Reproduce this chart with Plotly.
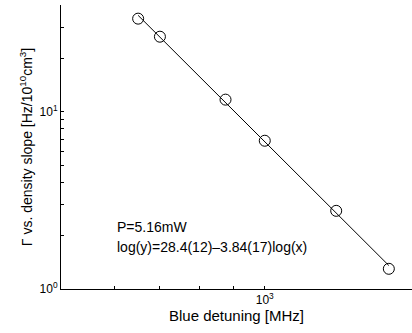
import numpy as np
import plotly.graph_objects as go

# Data
detuning = [650, 700, 875, 1000, 1275, 1525]       # MHz
slope = [33.5, 26.5, 11.7, 6.86, 2.76, 1.30]        # Hz/10^10 cm^3

x_tickvals = [500, 600, 700, 800, 900, 1000]
x_ticktext = ["", "", "", "", "", "10<sup>3</sup>"]
y_tickvals = [1, 2, 3, 4, 5, 6, 7, 8, 9, 10, 20, 30, 40]
y_ticktext = ["10<sup>0</sup>"] + [""] * 8 + ["10<sup>1</sup>", "", "", ""]

# Power-law fit drawn as a straight line on log-log axes
lx = np.log10(detuning)
ly = np.log10(slope)
b, a = np.polyfit(lx, ly, 1)
fit_x = np.array([detuning[0], detuning[-1]])
fit_y = 10 ** (a + b * np.log10(fit_x))

font = "Liberation Sans, Arial, sans-serif"

fig = go.Figure()
fig.add_trace(go.Scatter(x=fit_x, y=fit_y, mode="lines",
                         line=dict(color="black", width=1), showlegend=False))
fig.add_trace(go.Scatter(x=detuning, y=slope, mode="markers",
                         marker=dict(symbol="circle-open", size=11,
                                     color="black", line=dict(width=1)),
                         showlegend=False))

fig.add_annotation(x=np.log10(600), y=np.log10(2.24), xref="x", yref="y",
                   text="P=5.16mW", showarrow=False, xanchor="left",
                   yanchor="middle", font=dict(family=font, size=14, color="black"))
fig.add_annotation(x=np.log10(600), y=np.log10(1.73), xref="x", yref="y",
                   text="log(y)=28.4(12)\u20133.84(17)log(x)", showarrow=False,
                   xanchor="left", yanchor="middle",
                   font=dict(family=font, size=14, color="black"))

fig.update_layout(
    width=412, height=333,
    margin=dict(l=61, r=0, t=5, b=44),
    paper_bgcolor="white", plot_bgcolor="white",
    font=dict(family=font, color="black"),
)
fig.update_xaxes(
    type="log", range=[np.log10(500), np.log10(1650)],
    tickvals=x_tickvals, ticktext=x_ticktext,
    ticks="inside", ticklen=3, tickcolor="black", tickwidth=1,
    showline=True, linecolor="black", linewidth=1, mirror=False,
    showgrid=False, zeroline=False,
    tickfont=dict(family=font, size=12, color="black"),
    title=dict(text="Blue detuning [MHz]", standoff=4,
               font=dict(family=font, size=15, color="black")),
)
fig.update_yaxes(
    type="log", range=[0, np.log10(40)],
    tickvals=y_tickvals, ticktext=y_ticktext,
    ticks="inside", ticklen=3, tickcolor="black", tickwidth=1,
    showline=True, linecolor="black", linewidth=1, mirror=False,
    showgrid=False, zeroline=False,
    tickfont=dict(family=font, size=12, color="black"),
    title=dict(text="\u0393 vs. density slope [Hz/10<sup>10</sup>cm<sup>3</sup>]",
               standoff=3, font=dict(family=font, size=14, color="black")),
)

fig.write_html("out.html")
